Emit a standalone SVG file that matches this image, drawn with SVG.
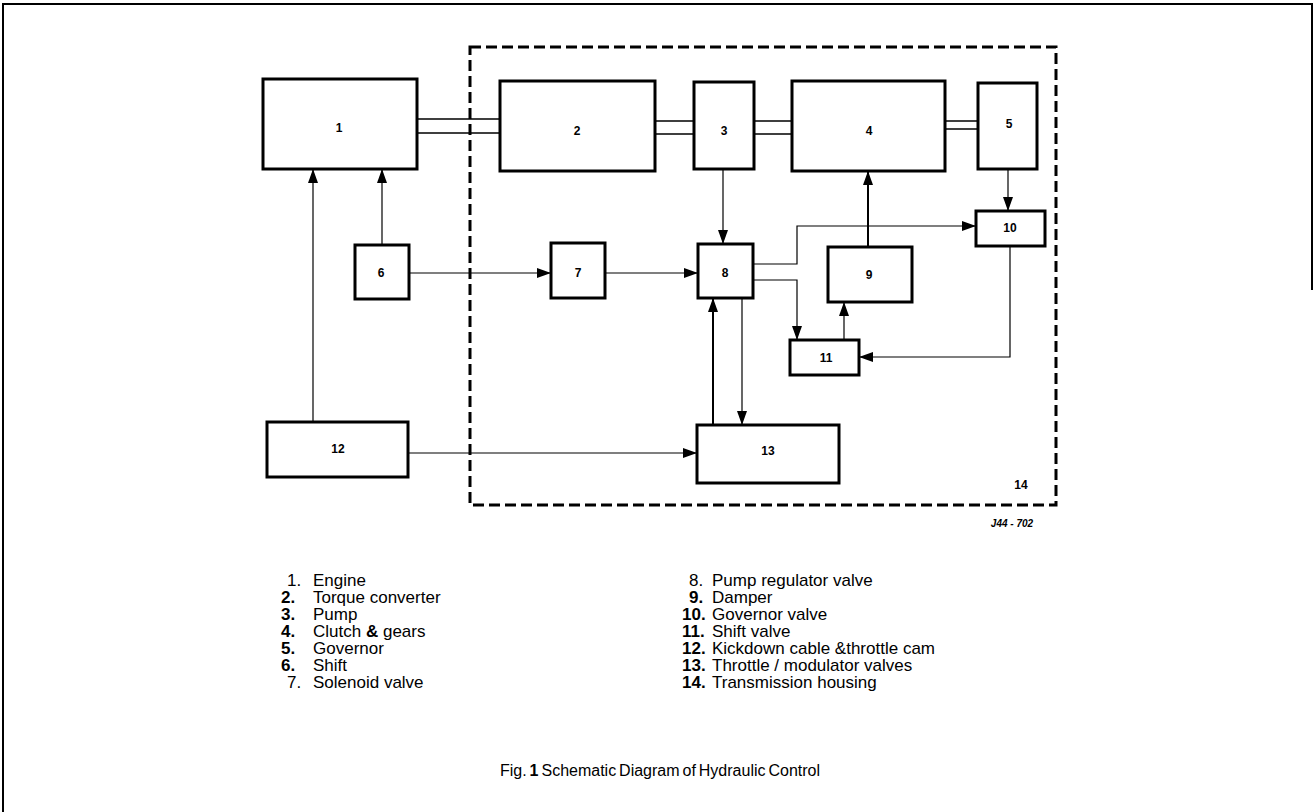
<svg xmlns="http://www.w3.org/2000/svg" width="1314" height="812" viewBox="0 0 1314 812">
<defs>
<marker id="arr" markerUnits="userSpaceOnUse" markerWidth="14" markerHeight="10" refX="14" refY="5" orient="auto">
<path d="M0,0 L14,5 L0,10 z" fill="#000"/>
</marker>
</defs>
<style>
.box{fill:#fff;stroke:#000;stroke-width:3}
.num{font-family:"Liberation Sans",Arial,sans-serif;font-weight:bold;font-size:12px;text-anchor:middle;fill:#000}
.con{fill:none;stroke:#000;stroke-width:1.2}
.shaft{fill:none;stroke:#000;stroke-width:1.5}
.leg{font-family:"Liberation Sans",Arial,sans-serif;font-size:17px;fill:#000}
.b{font-weight:bold}
.frame{fill:none;stroke:#000;stroke-width:2}
.housing{fill:none;stroke:#000;stroke-width:3;stroke-dasharray:11,5}
</style>
<rect width="1314" height="812" fill="#fff"/>
<g id="frame">
<path class="frame" d="M3,812 V4 H1312 V290"/>
</g>
<g id="node14">
<rect class="housing" x="470" y="47" width="586" height="458"/>
<text class="num" x="1021" y="489">14</text>
</g>
<g id="connectors">
<path class="shaft" d="M417,119 H500 M417,133 H500"/>
<path class="shaft" d="M655,121 H694 M655,134 H694"/>
<path class="shaft" d="M754,121 H792 M754,134 H792"/>
<path class="shaft" d="M945,121 H978 M945,129 H978"/>
<path class="con" d="M313,422 V169" marker-end="url(#arr)"/>
<path class="con" d="M382,245 V169" marker-end="url(#arr)"/>
<path class="con" d="M409,273 H551" marker-end="url(#arr)"/>
<path class="con" d="M605,273 H698" marker-end="url(#arr)"/>
<path class="con" d="M723,169 V244" marker-end="url(#arr)"/>
<path class="con" d="M1008,169 V211" marker-end="url(#arr)"/>
<path class="con" style="stroke-width:2" d="M868,247 V171" marker-end="url(#arr)"/>
<path class="con" d="M753,264 H797 V226 H976" marker-end="url(#arr)"/>
<path class="con" d="M753,280 H797 V340" marker-end="url(#arr)"/>
<path class="con" d="M844,340 V302" marker-end="url(#arr)"/>
<path class="con" d="M1010,246 V357 H859" marker-end="url(#arr)"/>
<path class="con" style="stroke-width:2" d="M713,425 V298" marker-end="url(#arr)"/>
<path class="con" d="M742,298 V425" marker-end="url(#arr)"/>
<path class="con" d="M408,453 H697" marker-end="url(#arr)"/>
</g>
<g id="node1"><rect class="box" x="263" y="79" width="154" height="90"/><text class="num" x="339" y="132">1</text></g>
<g id="node2"><rect class="box" x="500" y="81" width="155" height="90"/><text class="num" x="577" y="135">2</text></g>
<g id="node3"><rect class="box" x="694" y="82" width="60" height="87"/><text class="num" x="724" y="135">3</text></g>
<g id="node4"><rect class="box" x="792" y="81" width="153" height="90"/><text class="num" x="869" y="135">4</text></g>
<g id="node5"><rect class="box" x="978" y="83" width="59" height="86"/><text class="num" x="1009" y="128">5</text></g>
<g id="node6"><rect class="box" x="355" y="245" width="54" height="54"/><text class="num" x="381" y="277">6</text></g>
<g id="node7"><rect class="box" x="551" y="243" width="54" height="55"/><text class="num" x="578" y="277">7</text></g>
<g id="node8"><rect class="box" x="698" y="244" width="55" height="54"/><text class="num" x="725" y="277">8</text></g>
<g id="node9"><rect class="box" x="828" y="247" width="84" height="55"/><text class="num" x="869" y="279">9</text></g>
<g id="node10"><rect class="box" x="976" y="211" width="69" height="35"/><text class="num" x="1010" y="232">10</text></g>
<g id="node11"><rect class="box" x="790" y="340" width="69" height="35"/><text class="num" x="826" y="362">11</text></g>
<g id="node12"><rect class="box" x="267" y="422" width="141" height="55"/><text class="num" x="338" y="453">12</text></g>
<g id="node13"><rect class="box" x="697" y="425" width="142" height="58"/><text class="num" x="768" y="455">13</text></g>
<g id="ref"><text x="1012" y="527" style="font-family:'Liberation Sans',Arial,sans-serif;font-weight:bold;font-style:italic;font-size:10px;text-anchor:middle">J44 - 702</text></g>
<g id="legend">
<text class="leg" x="287" y="586">1.</text><text class="leg" x="313" y="586">Engine</text>
<text class="leg b" x="281" y="603">2.</text><text class="leg" x="313" y="603">Torque converter</text>
<text class="leg b" x="281" y="620">3.</text><text class="leg" x="313" y="620">Pump</text>
<text class="leg b" x="281" y="637">4.</text><text class="leg" x="313" y="637">Clutch <tspan class="b">&amp;</tspan> gears</text>
<text class="leg b" x="281" y="654">5.</text><text class="leg" x="313" y="654">Governor</text>
<text class="leg b" x="281" y="671">6.</text><text class="leg" x="313" y="671">Shift</text>
<text class="leg" x="287" y="688">7.</text><text class="leg" x="313" y="688">Solenoid valve</text>
<text class="leg" x="689" y="586">8.</text><text class="leg" x="712" y="586">Pump regulator valve</text>
<text class="leg b" x="689" y="603">9.</text><text class="leg" x="712" y="603">Damper</text>
<text class="leg b" x="682" y="620">10.</text><text class="leg" x="712" y="620">Governor valve</text>
<text class="leg b" x="682" y="637">11.</text><text class="leg" x="712" y="637">Shift valve</text>
<text class="leg b" x="682" y="654">12.</text><text class="leg" x="712" y="654">Kickdown cable &amp;throttle cam</text>
<text class="leg b" x="682" y="671">13.</text><text class="leg" x="712" y="671">Throttle / modulator valves</text>
<text class="leg b" x="682" y="688">14.</text><text class="leg" x="712" y="688">Transmission housing</text>
</g>
<g id="caption">
<text class="leg" x="660" y="776" text-anchor="middle" style="font-size:16px;word-spacing:-1.5px">Fig. <tspan class="b">1</tspan> Schematic Diagram of Hydraulic Control</text>
</g>
</svg>
